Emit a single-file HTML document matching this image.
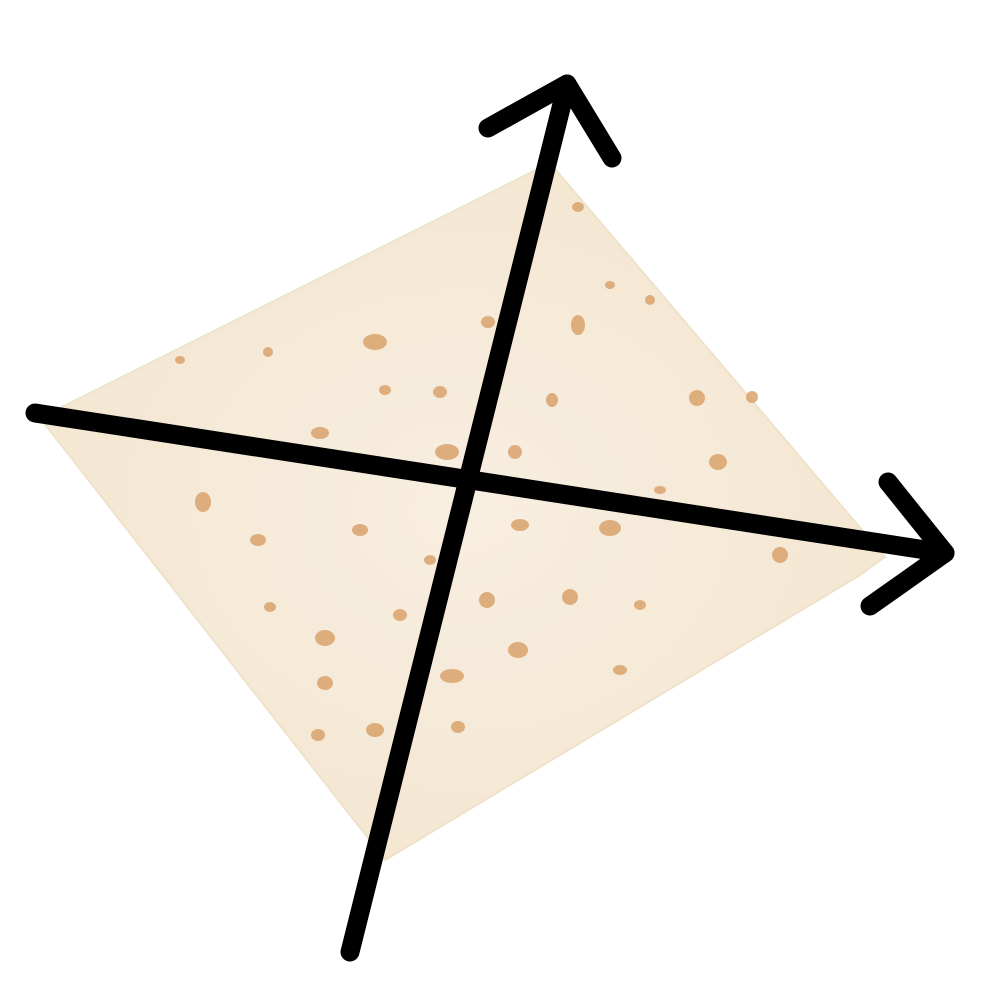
<!DOCTYPE html>
<html>
<head>
<meta charset="utf-8">
<style>
  html,body{margin:0;padding:0;background:#fff;}
  svg{display:block;}
</style>
</head>
<body>
<svg width="1000" height="1000" viewBox="0 0 1000 1000">
  <defs>
    <radialGradient id="bread" cx="50%" cy="50%" r="60%">
      <stop offset="0%" stop-color="#f8eee0"/>
      <stop offset="100%" stop-color="#f3e6d0"/>
    </radialGradient>
  </defs>
  <g>
    <path d="M550,163 L885,557 L860,575 L385,860 L40,418 Z"
          fill="url(#bread)" stroke="#efe2cb" stroke-width="2"/>
    <g fill="#d89e66" opacity="0.8">
      <ellipse cx="375" cy="342" rx="12" ry="8"/>
      <ellipse cx="320" cy="433" rx="9" ry="6"/>
      <ellipse cx="447" cy="452" rx="12" ry="8"/>
      <ellipse cx="203" cy="502" rx="8" ry="10"/>
      <ellipse cx="360" cy="530" rx="8" ry="6"/>
      <ellipse cx="520" cy="525" rx="9" ry="6"/>
      <ellipse cx="610" cy="528" rx="11" ry="8"/>
      <ellipse cx="718" cy="462" rx="9" ry="8"/>
      <ellipse cx="697" cy="398" rx="8" ry="8"/>
      <ellipse cx="578" cy="325" rx="7" ry="10"/>
      <ellipse cx="488" cy="322" rx="7" ry="6"/>
      <ellipse cx="487" cy="600" rx="8" ry="8"/>
      <ellipse cx="570" cy="597" rx="8" ry="8"/>
      <ellipse cx="518" cy="650" rx="10" ry="8"/>
      <ellipse cx="452" cy="676" rx="12" ry="7"/>
      <ellipse cx="325" cy="638" rx="10" ry="8"/>
      <ellipse cx="325" cy="683" rx="8" ry="7"/>
      <ellipse cx="375" cy="730" rx="9" ry="7"/>
      <ellipse cx="318" cy="735" rx="7" ry="6"/>
      <ellipse cx="458" cy="727" rx="7" ry="6"/>
      <ellipse cx="620" cy="670" rx="7" ry="5"/>
      <ellipse cx="780" cy="555" rx="8" ry="8"/>
      <ellipse cx="752" cy="397" rx="6" ry="6"/>
      <ellipse cx="552" cy="400" rx="6" ry="7"/>
      <ellipse cx="515" cy="452" rx="7" ry="7"/>
      <ellipse cx="258" cy="540" rx="8" ry="6"/>
      <ellipse cx="270" cy="607" rx="6" ry="5"/>
      <ellipse cx="180" cy="360" rx="5" ry="4"/>
      <ellipse cx="578" cy="207" rx="6" ry="5"/>
      <ellipse cx="440" cy="392" rx="7" ry="6"/>
      <ellipse cx="385" cy="390" rx="6" ry="5"/>
      <ellipse cx="268" cy="352" rx="5" ry="5"/>
      <ellipse cx="640" cy="605" rx="6" ry="5"/>
      <ellipse cx="400" cy="615" rx="7" ry="6"/>
      <ellipse cx="650" cy="300" rx="5" ry="5"/>
      <ellipse cx="610" cy="285" rx="5" ry="4"/>
      <ellipse cx="660" cy="490" rx="6" ry="4"/>
      <ellipse cx="430" cy="560" rx="6" ry="5"/>
    </g>
  </g>
  <g stroke="#000" stroke-width="19" stroke-linecap="round" stroke-linejoin="round" fill="none">
    <line x1="35" y1="413" x2="945" y2="553"/>
    <polyline points="888,482 945,553 870,606"/>
    <line x1="350" y1="952" x2="567" y2="84"/>
    <polyline points="488,128 567,84 612,158"/>
  </g>
</svg>
</body>
</html>
